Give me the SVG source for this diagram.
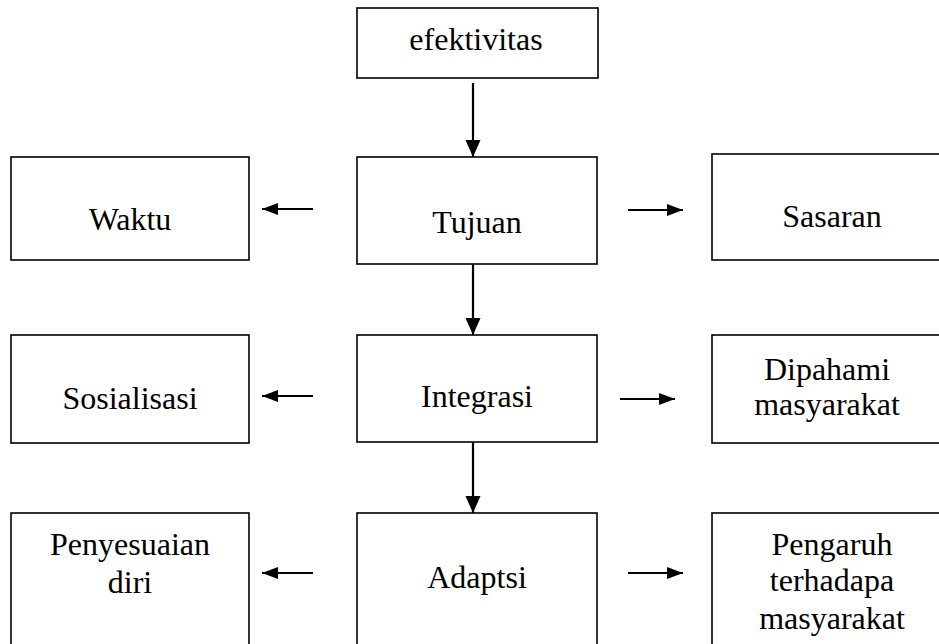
<svg xmlns="http://www.w3.org/2000/svg" width="939" height="644" viewBox="0 0 939 644">
<style>
.box{fill:#fff;stroke:#000;stroke-width:1.6}
.t{font-family:"Liberation Serif","Times New Roman",serif;font-size:32px;fill:#000;text-anchor:middle}
.c{stroke:#000;stroke-width:2.2;fill:none}
.cv{marker-end:url(#av)}
.ch{marker-end:url(#ah)}
</style>
<defs>
<marker id="av" markerUnits="userSpaceOnUse" markerWidth="17" markerHeight="16" refX="17" refY="8" orient="auto"><path d="M0,0.5 L17,8 L0,15.5 z" fill="#000"/></marker>
<marker id="ah" markerUnits="userSpaceOnUse" markerWidth="16" markerHeight="13" refX="16" refY="6.5" orient="auto"><path d="M0,0.5 L16,6.5 L0,12.5 z" fill="#000"/></marker>
</defs>
<rect width="939" height="644" fill="#fff"/>
<g id="efektivitas"><rect class="box" x="357" y="8" width="241" height="70"/><text class="t" x="476" y="50">efektivitas</text></g>
<g id="waktu"><rect class="box" x="11" y="157" width="238" height="103"/><text class="t" x="130" y="230">Waktu</text></g>
<g id="tujuan"><rect class="box" x="357" y="157" width="240" height="107"/><text class="t" x="477" y="233">Tujuan</text></g>
<g id="sasaran"><rect class="box" x="712" y="154" width="240" height="106"/><text class="t" x="832" y="227">Sasaran</text></g>
<g id="sosialisasi"><rect class="box" x="11" y="335" width="238" height="108"/><text class="t" x="130" y="409">Sosialisasi</text></g>
<g id="integrasi"><rect class="box" x="357" y="335" width="240" height="107"/><text class="t" x="477" y="407">Integrasi</text></g>
<g id="dipahami"><rect class="box" x="712" y="335" width="240" height="108"/><text class="t" x="827" y="380">Dipahami</text><text class="t" x="827" y="415">masyarakat</text></g>
<g id="penyesuaian"><rect class="box" x="11" y="513" width="238" height="150"/><text class="t" x="130" y="555">Penyesuaian</text><text class="t" x="130" y="593">diri</text></g>
<g id="adaptsi"><rect class="box" x="357" y="513" width="240" height="150"/><text class="t" x="477" y="588">Adaptsi</text></g>
<g id="pengaruh"><rect class="box" x="712" y="513" width="240" height="150"/><text class="t" x="832" y="555">Pengaruh</text><text class="t" x="832" y="591">terhadapa</text><text class="t" x="832" y="629">masyarakat</text></g>
<g id="connectors">
<line class="c cv" x1="473" y1="83" x2="473" y2="157"/>
<line class="c cv" x1="473" y1="264" x2="473" y2="335"/>
<line class="c cv" x1="473" y1="442" x2="473" y2="513"/>
<line class="c ch" x1="313" y1="209" x2="262" y2="209"/>
<line class="c ch" x1="628" y1="210" x2="683" y2="210"/>
<line class="c ch" x1="313" y1="396" x2="262" y2="396"/>
<line class="c ch" x1="620" y1="399" x2="675" y2="399"/>
<line class="c ch" x1="313" y1="573" x2="262" y2="573"/>
<line class="c ch" x1="628" y1="573" x2="683" y2="573"/>
</g>
</svg>
